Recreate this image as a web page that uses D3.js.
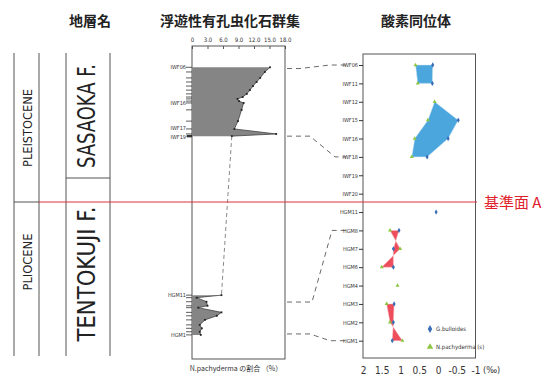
<!DOCTYPE html>
<html><head><meta charset="utf-8">
<script src="https://cdn.jsdelivr.net/npm/d3@7"></script>
<style>
body{margin:0;background:#fff}
text{font-family:"Liberation Sans Narrow","DejaVu Sans Condensed","Liberation Sans",Arial,sans-serif;fill:#222}
.cjk{font-family:"Noto Sans CJK JP","Noto Sans CJK SC",sans-serif}
</style>
</head><body><svg id="c" width="548" height="376"></svg>
<script>
// ---------- data ----------
const titles = ["地層名", "浮遊性有孔虫化石群集", "酸素同位体"];
const epochs = ["PLEISTOCENE", "PLIOCENE"];
const formations = ["SASAOKA F.", "TENTOKUJI F."];
const datumLabel = "基準面 A";

// planktonic foraminifera: stratigraphic position (relative units, 0 = top) and N.pachyderma ratio (%)
const foramTicks = [0, 3, 6, 9, 12, 15, 18];
const foramTickLabels = ["0", "3.0", "6.0", "9.0", "12.0", "15.0", "18.0"];
const upperPos = [6.8, 8.3, 10.2, 11.5, 12.8, 14.1, 15.3, 16.3, 16.9, 17.6, 18.2, 20.4, 24.0, 26.5, 28.1, 28.8];
const upperVal = [15.1, 14.1, 13.2, 12.5, 11.8, 11.2, 10.6, 9.8, 8.8, 9.1, 10.0, 9.6, 8.9, 8.2, 16.3, 7.7];
const lowerPos = [79.6, 80.4, 81.7, 83.0, 83.6, 85.1, 86.2, 87.5, 89.1, 90.2, 91.3, 92.3];
const lowerVal = [5.7, 0.9, 2.8, 3.0, 1.2, 5.7, 4.8, 2.5, 1.5, 1.9, 1.5, 1.7];
const foramSampleNames = ["IWF06", "IWF16", "IWF17", "IWF19", "HGM11", "HGM1"];
const foramSamplePos = [6.8, 18.2, 26.3, 29.0, 79.6, 92.3];
const foramXLabel = "N.pachyderma の割合 （%）";

// oxygen isotopes (δ18O, ‰)
const isoSamples = ["IWF06", "IWF11", "IWF12", "IWF15", "IWF16", "IWF18", "IWF19", "IWF20",
                    "HGM11", "HGM8", "HGM7", "HGM6", "HGM4", "HGM3", "HGM2", "HGM1"];
const gBulloides  = [0.14, 0.15, null, -0.54, -0.27, 0.29, null, null, 0.05, 1.04, 1.19, 1.19, null, 1.17, 1.19, 1.22];
const nPachyderma = [0.60, 0.54, 0.09, 0.27, 0.62, 0.70, null, null, null, 1.28, 1.01, 1.50, 1.08, 1.37, 1.28, 0.95];
const isoTicks = [2, 1.5, 1, 0.5, 0, -0.5, -1];
const isoTickLabels = ["2", "1.5", "1", "0.5", "0", "-0.5", "-1"];
const blueGroups = [["IWF06", "IWF11"], ["IWF12", "IWF15", "IWF16", "IWF18"]];
const redGroups = [["HGM8", "HGM7", "HGM6"], ["HGM3", "HGM2", "HGM1"]];
const legendNames = ["G.bulloides", "N.pachyderma (s)"];

// correlation lines: foram position -> isotope sample
const linkFrom = [7.2, 28.8, 81.8, 92.0];
const linkTo = ["IWF06", "IWF18", "HGM8", "HGM1"];

// ---------- drawing ----------
const svg = d3.select("#c");
const lineCol = "#555";

// titles
const titleX = [90, 230, 416];
svg.selectAll(".title").data(titles).join("text")
  .attr("class", "cjk").attr("x", (d, i) => titleX[i]).attr("y", 26)
  .attr("text-anchor", "middle").style("font-size", "14px").style("font-weight", "bold")
  .style("fill", "#222").text(d => d);

// ---- stratigraphic column ----
const colX = [14, 39, 66, 110];
const colTop = 53, colBot = 356, datumY = 202, formBoundY = 178;
svg.selectAll(".col").data(colX).join("line")
  .attr("x1", d => d).attr("x2", d => d).attr("y1", colTop).attr("y2", colBot)
  .attr("stroke", lineCol).attr("stroke-width", 1);
svg.append("line").attr("x1", colX[0]).attr("x2", colX[1]).attr("y1", datumY).attr("y2", datumY)
  .attr("stroke", lineCol);
svg.append("line").attr("x1", colX[2]).attr("x2", colX[3]).attr("y1", formBoundY).attr("y2", formBoundY)
  .attr("stroke", lineCol);

const epochPos = [[27, 128, 78], [27, 262, 57]];
epochs.forEach((t, i) => {
  const [x, y, len] = epochPos[i];
  svg.append("text").attr("transform", `translate(${x + 4.5},${y}) rotate(-90)`)
    .attr("text-anchor", "middle").style("font-size", "13px")
    .attr("textLength", len).attr("lengthAdjust", "spacingAndGlyphs").text(t);
});
const formPos = [[86, 116, 104], [86, 274, 135]];
formations.forEach((t, i) => {
  const [x, y, len] = formPos[i];
  svg.append("text").attr("transform", `translate(${x + 9},${y}) rotate(-90)`)
    .attr("text-anchor", "middle").style("font-size", "25px")
    .attr("textLength", len).attr("lengthAdjust", "spacingAndGlyphs").text(t);
});

// ---- foram chart ----
const fL = 192, fR = 285, fT = 46, fB = 359;
const xF = d3.scaleLinear().domain([0, 18]).range([fL, fR]);
const yF = d3.scaleLinear().domain([0, 100]).range([fT, fB]);
const gF = svg.append("g");
gF.append("rect").attr("x", fL).attr("y", fT).attr("width", fR - fL).attr("height", fB - fT)
  .attr("fill", "none").attr("stroke", lineCol).attr("stroke-width", 1);
gF.append("g").attr("transform", `translate(0,${fT})`)
  .call(d3.axisTop(xF).tickValues(foramTicks).tickFormat((d, i) => foramTickLabels[i]).tickSize(-3).tickPadding(4))
  .call(g => g.select(".domain").remove())
  .call(g => g.selectAll("line").attr("stroke", lineCol))
  .call(g => g.selectAll("text").style("font-size", "6px").style("fill", "#333"));

const upper = upperPos.map((p, i) => ({p, v: upperVal[i]}));
const lower = lowerPos.map((p, i) => ({p, v: lowerVal[i]}));
const area = d3.area().x0(xF(0)).x1(d => xF(d.v)).y(d => yF(d.p));
const line = d3.line().x(d => xF(d.v)).y(d => yF(d.p));
[upper, lower].forEach(s => {
  gF.append("path").attr("d", area(s)).attr("fill", "#858585").attr("stroke", "none");
  gF.append("path").attr("d", line(s)).attr("fill", "none").attr("stroke", "#333").attr("stroke-width", 0.7);
  gF.selectAll(null).data(s).join("rect")
    .attr("x", d => xF(d.v) - 0.9).attr("y", d => yF(d.p) - 0.9).attr("width", 1.8).attr("height", 1.8)
    .attr("fill", "#222");
  gF.selectAll(null).data(s).join("line")
    .attr("x1", fL - 6).attr("x2", fL).attr("y1", d => yF(d.p)).attr("y2", d => yF(d.p))
    .attr("stroke", "#333").attr("stroke-width", 0.8);
});
gF.append("rect").attr("x", fL - 5).attr("y", yF(28.8) - 1.2).attr("width", 5).attr("height", 2.4).attr("fill", "#333");
gF.append("path").attr("d", line([upper[upper.length - 1], lower[0]]))
  .attr("fill", "none").attr("stroke", "#555").attr("stroke-width", 0.7).attr("stroke-dasharray", "4,3");
gF.selectAll(null).data(foramSampleNames).join("text")
  .attr("x", fL - 6).attr("y", (d, i) => yF(foramSamplePos[i]) + 2)
  .attr("text-anchor", "end").style("font-size", "5.5px").style("fill", "#333").text(d => d);
svg.append("text").attr("class", "cjk").attr("x", 236).attr("y", 371).attr("text-anchor", "middle")
  .style("font-size", "7px").style("fill", "#333").text(foramXLabel);

// ---- isotope chart ----
const iL = 363, iR = 475.5, iT = 54, iB = 358;
const xI = d3.scaleLinear().domain([2, -1]).range([iL, iR]);
const yI = d3.scalePoint().domain(isoSamples).range([65, 340.7]);
const gI = svg.append("g");
gI.append("rect").attr("x", iL).attr("y", iT).attr("width", iR - iL).attr("height", iB - iT)
  .attr("fill", "none").attr("stroke", lineCol).attr("stroke-width", 1);
gI.append("g").attr("transform", `translate(${iL},0)`)
  .call(d3.axisLeft(yI).tickSize(4).tickPadding(1))
  .call(g => g.select(".domain").remove())
  .call(g => g.selectAll("line").attr("stroke", "#333"))
  .call(g => g.selectAll("text").style("font-size", "5.5px").style("fill", "#333"));
gI.append("g").attr("transform", `translate(0,${iB})`)
  .call(d3.axisBottom(xI).tickValues(isoTicks).tickFormat((d, i) => isoTickLabels[i]).tickSize(0).tickPadding(9))
  .call(g => g.select(".domain").remove())
  .call(g => g.selectAll("text").style("font-size", "10px").style("fill", "#333"));
svg.append("text").attr("x", 483).attr("y", 373).style("font-size", "9px").style("fill", "#333").text("(‰)");

const idx = n => isoSamples.indexOf(n);
function groupPath(names) {
  const pts = [];
  names.forEach(n => { const v = gBulloides[idx(n)]; if (v != null) pts.push([xI(v), yI(n)]); });
  names.slice().reverse().forEach(n => { const v = nPachyderma[idx(n)]; if (v != null) pts.push([xI(v), yI(n)]); });
  return d3.line()(pts) + "Z";
}
blueGroups.forEach(g => gI.append("path").attr("d", groupPath(g)).attr("fill", "#4aa6dc").attr("stroke", "#d0e6f4").attr("stroke-width", 0.5));
redGroups.forEach(g => gI.append("path").attr("d", groupPath(g)).attr("fill", "#ee4d5c").attr("stroke", "#f6c0c6").attr("stroke-width", 0.5));

const diamond = d3.symbol().type(d3.symbolDiamond).size(8);
const tri = d3.symbol().type(d3.symbolTriangle).size(7);
const gbPts = isoSamples.map((n, i) => ({n, v: gBulloides[i]})).filter(d => d.v != null);
const npPts = isoSamples.map((n, i) => ({n, v: nPachyderma[i]})).filter(d => d.v != null);
gI.selectAll(null).data(npPts).join("path").attr("d", tri)
  .attr("transform", d => `translate(${xI(d.v)},${yI(d.n)})`).attr("fill", "#8cc63f");
gI.selectAll(null).data(gbPts).join("path").attr("d", diamond)
  .attr("transform", d => `translate(${xI(d.v)},${yI(d.n)})`).attr("fill", "#3a6fb6");

// legend
const lg = svg.append("g");
lg.append("path").attr("d", d3.symbol().type(d3.symbolDiamond).size(18)).attr("transform", "translate(430,329)").attr("fill", "#3a6fb6");
lg.append("path").attr("d", d3.symbol().type(d3.symbolTriangle).size(18)).attr("transform", "translate(430,347)").attr("fill", "#8cc63f");
lg.selectAll(null).data(legendNames).join("text").attr("x", 436).attr("y", (d, i) => 331 + i * 18)
  .style("font-size", "6px").style("fill", "#333").text(d => d);

// correlation links
const bendF = [300, 310, 312, 310];
const bendI = [330, 335, 332, 330];
linkFrom.forEach((p, i) => {
  const yf = yF(p), yi = yI(linkTo[i]);
  svg.append("path").attr("d", d3.line()([[fR + 2, yf], [bendF[i], yf], [bendI[i], yi], [iL - 17, yi]]))
    .attr("fill", "none").attr("stroke", "#444").attr("stroke-width", 0.8).attr("stroke-dasharray", "5,4");
});

// datum line
svg.append("line").attr("x1", colX[1]).attr("x2", 477).attr("y1", datumY).attr("y2", datumY)
  .attr("stroke", "#e0303a").attr("stroke-width", 1);
svg.append("text").attr("class", "cjk").attr("x", 484).attr("y", 208).style("font-size", "15px")
  .style("fill", "#e0202a").text(datumLabel);
</script></body></html>
